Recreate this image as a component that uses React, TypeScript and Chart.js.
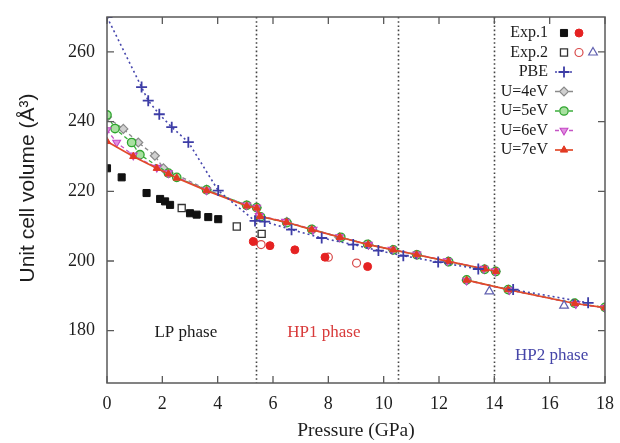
import React, { useEffect, useRef } from 'react';
import { Chart, registerables } from 'chart.js';
import { drawPoint } from 'chart.js/helpers';

Chart.register(...registerables);

// ---- axis ticks ----
const xTickValues = [0, 2, 4, 6, 8, 10, 12, 14, 16, 18];
const yTickValues = [180, 200, 220, 240, 260];
const phaseBoundaries = [5.4, 10.5, 14.0];
const phaseNames = ['LP phase', 'HP1 phase', 'HP2 phase'];
const legendLabels = ['Exp.1', 'Exp.2', 'PBE', 'U=4eV', 'U=5eV', 'U=6eV', 'U=7eV'];
const xAxisTitle = 'Pressure (GPa)';
const yAxisTitle = 'Unit cell volume (Å³)';

// ---- experimental data ----
const exp1LpPressure = [0, 0.53, 1.43, 1.92, 2.1, 2.28, 3.0, 3.24, 3.66, 4.02];
const exp1LpVolume = [226.6, 224.0, 219.5, 217.8, 217.1, 216.1, 213.7, 213.3, 212.6, 212.0];
const exp1HpPressure = [5.29, 5.89, 6.79, 7.88, 9.42];
const exp1HpVolume = [205.6, 204.4, 203.2, 201.1, 198.4];
const exp2LpPressure = [2.7, 4.69, 5.59];
const exp2LpVolume = [215.2, 209.9, 207.8];
const exp2Hp1Pressure = [5.57, 8.0, 9.02];
const exp2Hp1Volume = [204.7, 201.1, 199.4];
const exp2Hp2Pressure = [13.82, 16.52];
const exp2Hp2Volume = [191.3, 187.2];

// ---- calculations (null = break between phases) ----
const pbePressure = [0, 1.25, 1.49, 1.89, 2.34, 2.94, 4.02, 5.35, 5.7, 6.67, 7.76, 8.9, 9.81, 10.71, 11.97, 13.42, null, 14.68, 17.39];
const pbeVolume = [270, 249.9, 246.0, 242.1, 238.4, 234.1, 220.2, 211.5, 211.3, 209.0, 206.6, 204.7, 203.0, 201.5, 199.7, 197.7, null, 191.8, 188.0];

const u4Pressure = [0, 0.59, 1.13, 1.73, 2.04, 3.6, 5.05, 5.41, 5.5, 6.5, 7.42, 8.4, 9.45, 10.33, 11.2, 12.33, 13.64, 14.05, null, 13.0, 14.52, 16.93, 18.0];
const u4Volume = [241.3, 237.9, 234.0, 230.2, 226.6, 220.5, 216.0, 215.3, 212.9, 211.2, 209.0, 206.8, 204.7, 203.2, 201.8, 199.9, 197.7, 197.0, null, 194.5, 191.8, 187.8, 186.6];

const u5Pressure = [0, 0.29, 0.89, 1.19, 2.22, 2.52, 3.6, 5.05, 5.41, 5.55, 6.5, 7.4, 8.45, 9.42, 10.35, 11.2, 12.35, 13.65, 14.05, null, 13.0, 14.5, 16.9, 18.0];
const u5Volume = [241.9, 238.0, 234.0, 230.5, 225.2, 224.0, 220.4, 216.0, 215.3, 212.7, 211.0, 209.1, 206.8, 204.8, 203.2, 201.8, 199.8, 197.6, 197.0, null, 194.6, 191.8, 187.9, 186.7];

const u6Pressure = [0, 0.35, 0.95, 1.8, 2.22, 3.6, 5.05, 5.41, 5.5, 6.45, 7.45, 8.4, 9.45, 10.3, 11.2, 12.3, 13.62, 14.03, null, 13.0, 14.55, 16.95, 18.0];
const u6Volume = [237.6, 234.0, 230.3, 226.8, 225.2, 220.3, 216.0, 215.3, 213.0, 211.3, 209.0, 206.9, 204.7, 203.3, 201.9, 200.0, 197.8, 197.1, null, 194.4, 191.7, 187.7, 186.6];

const u7Pressure = [0, 0.95, 1.8, 2.22, 2.52, 3.6, 5.05, 5.41, 5.53, 6.49, 7.4, 8.42, 9.44, 10.35, 11.19, 12.34, 13.66, 14.06, null, 13.0, 14.5, 16.91, 18.0];
const u7Volume = [234.3, 230.0, 226.6, 225.0, 223.8, 220.2, 215.8, 215.2, 212.8, 211.1, 209.0, 206.8, 204.7, 203.2, 201.8, 199.9, 197.7, 197.0, null, 194.5, 191.8, 187.8, 186.6];

const SERIF = '"Liberation Serif", "DejaVu Serif", serif';
const SANS = '"Liberation Sans", Arial, sans-serif';

const C = {
  black: '#111111',
  red: '#e52222',
  blue: '#3d3da6',
  gray: '#8a8a8a',
  green: '#2fa52f',
  magenta: '#c545c5',
  u7: '#e23a24',
};

const toPts = (xs: (number | null)[], ys: (number | null)[]) =>
  xs.map((x, i) => ({ x: x as any, y: ys[i] as any }));

const markerStyles: any = {
  exp1Sq: { pointStyle: 'rect', radius: 5, bg: C.black, border: C.black, bw: 1 },
  exp1Ci: { pointStyle: 'circle', radius: 4, bg: C.red, border: C.red, bw: 1 },
  exp2Sq: { pointStyle: 'rect', radius: 5, bg: '#ffffff', border: '#333333', bw: 1.3 },
  exp2Ci: { pointStyle: 'circle', radius: 4, bg: '#ffffff', border: '#d84a4a', bw: 1.2 },
  exp2Tr: { pointStyle: 'triangle', radius: 5, bg: '#ffffff', border: '#6060b0', bw: 1.2 },
  pbe: { pointStyle: 'cross', radius: 5.5, bg: C.blue, border: C.blue, bw: 1.8 },
  u4: { pointStyle: 'rectRot', radius: 4.5, bg: '#d0d0d0', border: C.gray, bw: 1.2 },
  u5: { pointStyle: 'circle', radius: 4.2, bg: '#a8e0a0', border: C.green, bw: 1.3 },
  u6: { pointStyle: 'triangle', radius: 4.5, bg: '#e090e0', border: C.magenta, bw: 1.1, rotation: 180 },
  u7: { pointStyle: 'triangle', radius: 4.2, bg: C.u7, border: C.u7, bw: 1 },
};

const lineStyles: any = {
  pbe: { color: '#4646ad', width: 1.6, dash: [2, 3] },
  u4: { color: '#8a8a8a', width: 1.3, dash: [4, 3] },
  u5: { color: '#3cae3c', width: 1.3, dash: [4, 3] },
  u6: { color: '#c555c5', width: 1.3, dash: [4, 3] },
  u7: { color: '#e24a2a', width: 1.7, dash: [] },
};

function makeDataset(label: string, xs: any[], ys: any[], key: string, withLine: boolean) {
  const m = markerStyles[key];
  const l = lineStyles[key];
  return {
    label,
    data: toPts(xs, ys),
    showLine: withLine,
    spanGaps: false,
    tension: 0,
    borderColor: l ? l.color : m.border,
    borderWidth: l ? l.width : 0,
    borderDash: l ? l.dash : [],
    pointStyle: m.pointStyle,
    pointRadius: m.radius,
    pointHoverRadius: m.radius,
    pointBackgroundColor: m.bg,
    pointBorderColor: m.border,
    pointBorderWidth: m.bw,
    pointRotation: m.rotation || 0,
  };
}

function drawMarker(ctx: CanvasRenderingContext2D, key: string, x: number, y: number) {
  const m = markerStyles[key];
  ctx.save();
  ctx.setLineDash([]);
  ctx.fillStyle = m.bg;
  ctx.strokeStyle = m.border;
  ctx.lineWidth = m.bw;
  drawPoint(ctx, { pointStyle: m.pointStyle, radius: m.radius, rotation: m.rotation || 0, borderWidth: m.bw } as any, x, y);
  ctx.restore();
}

const decorPlugin = {
  id: 'decor',
  beforeDatasetsDraw(chart: any) {
    const { ctx, chartArea } = chart;
    const xs = chart.scales.x;
    ctx.save();
    ctx.strokeStyle = '#444';
    ctx.lineWidth = 1.6;
    ctx.setLineDash([1.6, 2.6]);
    phaseBoundaries.forEach((p) => {
      const px = Math.round(xs.getPixelForValue(p)) + 0.5;
      ctx.beginPath();
      ctx.moveTo(px, chartArea.top);
      ctx.lineTo(px, chartArea.bottom);
      ctx.stroke();
    });
    ctx.restore();

    // phase labels
    const ys = chart.scales.y;
    const anchors = [
      { x: 2.85, y: 179.4, color: '#1a1a1a' },
      { x: 7.84, y: 179.4, color: '#d83a3a' },
      { x: 16.07, y: 172.8, color: '#4545a8' },
    ];
    ctx.save();
    ctx.font = `17px ${SERIF}`;
    ctx.textAlign = 'center';
    ctx.textBaseline = 'middle';
    anchors.forEach((a, i) => {
      ctx.fillStyle = a.color;
      ctx.fillText(phaseNames[i], xs.getPixelForValue(a.x), ys.getPixelForValue(a.y));
    });
    ctx.restore();
  },
  afterDraw(chart: any) {
    const { ctx, chartArea } = chart;
    const { left, right, top, bottom } = chartArea;
    const xs = chart.scales.x;
    const ys = chart.scales.y;
    ctx.save();
    ctx.setLineDash([]);
    ctx.strokeStyle = '#5a5a5a';
    ctx.lineWidth = 1.5;
    ctx.strokeRect(left, top, right - left, bottom - top);
    const tl = 7;
    ctx.lineWidth = 1.3;
    xTickValues.forEach((v) => {
      const px = xs.getPixelForValue(v);
      ctx.beginPath();
      ctx.moveTo(px, bottom);
      ctx.lineTo(px, bottom - tl);
      ctx.moveTo(px, top);
      ctx.lineTo(px, top + tl);
      ctx.stroke();
    });
    yTickValues.forEach((v) => {
      const py = ys.getPixelForValue(v);
      ctx.beginPath();
      ctx.moveTo(left, py);
      ctx.lineTo(left + tl, py);
      ctx.moveTo(right, py);
      ctx.lineTo(right - tl, py);
      ctx.stroke();
    });
    ctx.restore();

    // y-axis title (placed as in the reference, slightly above centre)
    ctx.save();
    ctx.translate(28, 188);
    ctx.rotate(-Math.PI / 2);
    ctx.font = `21px ${SANS}`;
    ctx.fillStyle = '#1e1e1e';
    ctx.textAlign = 'center';
    ctx.textBaseline = 'middle';
    ctx.fillText(yAxisTitle, 0, 0);
    ctx.restore();

    // legend
    const textRight = 548;
    const rowTop = 33;
    const rowStep = 19.5;
    const mx = 564;
    ctx.save();
    ctx.font = `16px ${SERIF}`;
    ctx.textAlign = 'right';
    ctx.textBaseline = 'middle';
    ctx.fillStyle = '#1a1a1a';
    legendLabels.forEach((lab, i) => {
      ctx.fillText(lab, textRight, rowTop + i * rowStep);
    });
    ctx.restore();
    let y = rowTop;
    drawMarker(ctx, 'exp1Sq', mx, y);
    drawMarker(ctx, 'exp1Ci', mx + 15, y);
    y += rowStep;
    drawMarker(ctx, 'exp2Sq', mx, y);
    drawMarker(ctx, 'exp2Ci', mx + 15, y);
    drawMarker(ctx, 'exp2Tr', mx + 29, y);
    const lineKeys = ['pbe', 'u4', 'u5', 'u6', 'u7'];
    lineKeys.forEach((k, i) => {
      const yy = rowTop + (i + 2) * rowStep;
      const l = lineStyles[k];
      ctx.save();
      ctx.strokeStyle = l.color;
      ctx.lineWidth = l.width;
      ctx.setLineDash(l.dash);
      ctx.beginPath();
      ctx.moveTo(mx - 9, yy);
      ctx.lineTo(mx + 9, yy);
      ctx.stroke();
      ctx.restore();
      drawMarker(ctx, k, mx, yy);
    });
  },
};

export default function App() {
  const ref = useRef<HTMLCanvasElement>(null);
  useEffect(() => {
    if (!ref.current) return;
    const chart = new Chart(ref.current, {
      type: 'scatter',
      data: {
        datasets: [
          makeDataset('Exp.1', exp1LpPressure, exp1LpVolume, 'exp1Sq', false),
          makeDataset('Exp.1', exp1HpPressure, exp1HpVolume, 'exp1Ci', false),
          makeDataset('Exp.2', exp2LpPressure, exp2LpVolume, 'exp2Sq', false),
          makeDataset('Exp.2', exp2Hp1Pressure, exp2Hp1Volume, 'exp2Ci', false),
          makeDataset('Exp.2', exp2Hp2Pressure, exp2Hp2Volume, 'exp2Tr', false),
          makeDataset('PBE', pbePressure, pbeVolume, 'pbe', true),
          makeDataset('U=7eV', u7Pressure, u7Volume, 'u7', true),
          makeDataset('U=6eV', u6Pressure, u6Volume, 'u6', true),
          makeDataset('U=5eV', u5Pressure, u5Volume, 'u5', true),
          makeDataset('U=4eV', u4Pressure, u4Volume, 'u4', true),
        ] as any,
      },
      options: {
        animation: false,
        responsive: true,
        maintainAspectRatio: false,
        layout: { padding: { left: 0, right: 15, top: 17, bottom: 0 } },
        plugins: { legend: { display: false }, tooltip: { enabled: false } },
        scales: {
          x: {
            type: 'linear',
            min: 0,
            max: 18,
            afterBuildTicks: (s: any) => {
              s.ticks = xTickValues.map((v) => ({ value: v }));
            },
            afterFit: (s: any) => {
              s.height = 60;
              s.paddingLeft = 0;
              s.paddingRight = 0;
            },
            grid: { display: false, drawTicks: false },
            border: { display: false },
            ticks: { font: { family: SERIF, size: 18 }, color: '#1e1e1e', padding: 10, maxRotation: 0, autoSkip: false },
            title: { display: true, text: xAxisTitle, font: { family: SERIF, size: 19.5 }, color: '#1e1e1e', padding: { top: 0, bottom: 0 } },
          },
          y: {
            type: 'linear',
            min: 165,
            max: 270,
            afterBuildTicks: (s: any) => {
              s.ticks = yTickValues.map((v) => ({ value: v }));
            },
            afterFit: (s: any) => {
              s.width = 107;
              s.paddingTop = 0;
              s.paddingBottom = 0;
            },
            grid: { display: false, drawTicks: false },
            border: { display: false },
            ticks: { font: { family: SERIF, size: 18 }, color: '#1e1e1e', padding: 12, autoSkip: false },
            title: { display: false },
          },
        },
      } as any,
      plugins: [decorPlugin],
    });
    return () => chart.destroy();
  }, []);
  return (
    <div style={{ position: 'fixed', left: 0, top: 0, width: 620, height: 443, background: '#ffffff' }}>
      <canvas ref={ref} />
    </div>
  );
}
